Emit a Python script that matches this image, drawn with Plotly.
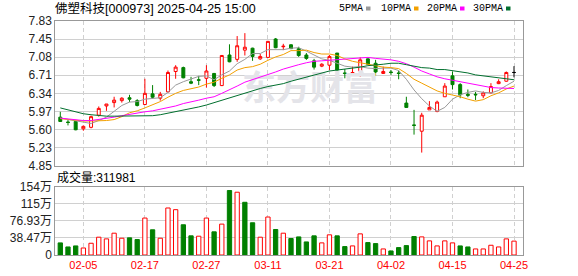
import plotly.graph_objects as go

# ---------------- data ----------------
dates = ["01-23", "01-24", "01-27",
         "02-05", "02-06", "02-07", "02-10", "02-11", "02-12", "02-13", "02-14",
         "02-17", "02-18", "02-19", "02-20", "02-21", "02-24", "02-25", "02-26",
         "02-27", "02-28", "03-03", "03-04", "03-05", "03-06", "03-07", "03-10",
         "03-11", "03-12", "03-13", "03-14", "03-17", "03-18", "03-19", "03-20",
         "03-21", "03-24", "03-25", "03-26", "03-27", "03-28", "03-31", "04-01",
         "04-02", "04-03", "04-07", "04-08", "04-09", "04-10", "04-11", "04-14",
         "04-15", "04-16", "04-17", "04-18", "04-21", "04-22", "04-23", "04-24",
         "04-25"]

opens = [5.85, 5.75, 5.76, 5.61, 5.64, 5.89, 6.08, 6.15, 6.19, 6.25,
         6.19, 6.11, 6.33, 6.24, 6.37, 6.79, 6.87, 6.58, 6.62, 6.65,
         6.75, 6.50, 7.13, 7.04, 7.23, 7.27, 7.05, 7.08, 7.46, 7.30,
         7.34, 7.26, 7.13, 7.01, 6.90, 6.92, 7.17, 6.76, 6.73, 6.79,
         7.05, 6.96, 6.75, 6.78, 6.76, 6.14, 5.69, 5.56, 6.00, 5.97,
         6.27, 6.70, 6.52, 6.32, 6.32, 6.29, 6.35, 6.54, 6.59, 6.77]
highs = [5.96, 5.79, 5.77, 5.68, 5.88, 6.07, 6.12, 6.27, 6.26, 6.31,
         6.22, 6.64, 6.51, 6.37, 6.81, 6.92, 6.89, 6.68, 6.70, 6.92,
         6.76, 7.13, 7.35, 7.52, 7.58, 7.28, 7.15, 7.42, 7.48, 7.36,
         7.35, 7.30, 7.17, 7.05, 6.96, 7.13, 7.17, 6.84, 6.89, 7.08,
         7.06, 7.03, 6.89, 6.82, 6.81, 6.27, 6.00, 5.94, 6.18, 6.19,
         6.55, 6.79, 6.55, 6.42, 6.37, 6.38, 6.55, 6.63, 6.79, 6.90]
lows = [5.75, 5.68, 5.58, 5.57, 5.62, 5.86, 5.98, 6.05, 6.15, 6.16,
        6.07, 6.10, 6.23, 6.19, 6.36, 6.64, 6.65, 6.53, 6.51, 6.46,
        6.47, 6.49, 6.98, 6.99, 7.12, 7.01, 7.03, 7.08, 7.27, 7.23,
        7.27, 7.09, 7.03, 6.83, 6.88, 6.82, 6.65, 6.65, 6.73, 6.68,
        6.93, 6.70, 6.74, 6.72, 6.63, 6.05, 5.49, 5.12, 6.00, 5.95,
        6.27, 6.42, 6.24, 6.26, 6.20, 6.24, 6.34, 6.53, 6.58, 6.67]
closes = [5.76, 5.74, 5.59, 5.66, 5.86, 6.03, 6.12, 6.20, 6.24, 6.22,
          6.09, 6.34, 6.26, 6.32, 6.77, 6.88, 6.66, 6.55, 6.61, 6.80,
          6.50, 7.12, 6.99, 7.32, 7.29, 7.10, 7.10, 7.41, 7.28, 7.31,
          7.26, 7.12, 7.06, 6.88, 6.94, 7.10, 6.82, 6.75, 6.77, 7.03,
          6.94, 6.78, 6.79, 6.77, 6.75, 6.05, 5.68, 5.89, 6.05, 6.16,
          6.49, 6.52, 6.31, 6.30, 6.31, 6.35, 6.48, 6.58, 6.77, 6.77]
# volume in 万 (10k lots)
volumes = [27.2, 18.1, 20.4, 15.8, 26.4, 40.0, 36.2, 49.0, 37.7, 38.5,
           34.7, 83.0, 56.6, 37.7, 105.6, 101.8, 67.9, 43.0, 42.2, 83.0,
           52.0, 69.4, 144.8, 141.0, 118.4, 72.4, 40.0, 85.3, 57.3, 49.0,
           37.0, 40.7, 29.4, 43.0, 27.2, 45.3, 43.0, 18.9, 20.4, 47.5,
           27.9, 25.6, 13.6, 9.1, 16.6, 21.1, 41.5, 40.7, 31.7, 20.4,
           31.7, 27.2, 20.4, 18.1, 13.6, 13.6, 21.9, 18.1, 36.2, 31.2]

ma5 = [5.83, 5.80, 5.77, 5.74, 5.72, 5.78, 5.85, 5.97, 6.09, 6.16,
       6.17, 6.22, 6.23, 6.25, 6.36, 6.51, 6.58, 6.64, 6.69, 6.70,
       6.62, 6.72, 6.80, 6.95, 7.04, 7.16, 7.16, 7.24, 7.24, 7.24,
       7.27, 7.28, 7.21, 7.13, 7.05, 7.02, 6.96, 6.90, 6.88, 6.89,
       6.86, 6.85, 6.86, 6.86, 6.81, 6.63, 6.41, 6.23, 6.08, 5.97,
       6.05, 6.22, 6.31, 6.36, 6.39, 6.36, 6.35, 6.40, 6.50, 6.59]
ma10 = [5.82, 5.80, 5.78, 5.77, 5.77, 5.77, 5.78, 5.80, 5.86, 5.94,
        5.98, 6.04, 6.10, 6.17, 6.26, 6.34, 6.40, 6.43, 6.47, 6.53,
        6.57, 6.65, 6.72, 6.82, 6.87, 6.89, 6.94, 7.02, 7.09, 7.14,
        7.22, 7.22, 7.23, 7.18, 7.15, 7.15, 7.12, 7.05, 7.00, 6.97,
        6.94, 6.91, 6.88, 6.87, 6.85, 6.75, 6.63, 6.55, 6.47, 6.39,
        6.34, 6.31, 6.27, 6.22, 6.18, 6.21, 6.29, 6.35, 6.43, 6.49]
ma20 = [5.83, 5.81, 5.79, 5.78, 5.78, 5.80, 5.82, 5.85, 5.88, 5.91,
        5.93, 5.96, 5.98, 6.01, 6.04, 6.08, 6.13, 6.16, 6.20, 6.24,
        6.27, 6.34, 6.41, 6.49, 6.57, 6.62, 6.67, 6.73, 6.78, 6.84,
        6.89, 6.93, 6.97, 7.00, 7.01, 7.02, 7.03, 7.04, 7.05, 7.06,
        7.08, 7.06, 7.05, 7.03, 7.00, 6.95, 6.88, 6.80, 6.74, 6.68,
        6.64, 6.61, 6.58, 6.55, 6.52, 6.48, 6.46, 6.45, 6.45, 6.44]
ma30 = [6.04, 6.00, 5.96, 5.92, 5.90, 5.88, 5.87, 5.87, 5.87, 5.87,
        5.87, 5.87, 5.88, 5.90, 5.93, 5.97, 6.00, 6.03, 6.06, 6.10,
        6.15, 6.20, 6.25, 6.30, 6.35, 6.40, 6.44, 6.48, 6.51, 6.54,
        6.59, 6.63, 6.68, 6.72, 6.76, 6.80, 6.82, 6.84, 6.85, 6.88,
        6.91, 6.92, 6.94, 6.96, 6.96, 6.93, 6.90, 6.87, 6.86, 6.83,
        6.83, 6.81, 6.79, 6.76, 6.72, 6.70, 6.68, 6.65, 6.63, 6.62]

price_ticks = ["4.85", "5.23", "5.60", "5.97", "6.34", "6.71", "7.08", "7.45", "7.83"]
vol_ticks = ["0", "38.47万", "76.93万", "115万", "154万"]
x_ticks = ["02-05", "02-17", "02-27", "03-11", "03-21", "04-02", "04-15", "04-25"]
ma_names = ["5PMA", "10PMA", "20PMA", "30PMA"]
title_text = "佛塑科技[000973] 2025-04-25 15:00"
last_volume = 311981
watermark = "东方财富"

PRICE_MIN, PRICE_MAX = 4.85, 7.83
VOL_MAX = 153.88

# ---------------- styles ----------------
W, H = 578, 276
RED = "#FF0000"
GREEN = "#008000"
MA_COLORS = ["#999999", "#F2A000", "#FF00FF", "#006F2E"]
GRID = "#D0D0D0"
BORDER = "#999999"
LABEL = "#222222"
SANS = "Liberation Sans, Noto Sans CJK SC, sans-serif"
CJK = "Liberation Sans, Noto Sans CJK SC, sans-serif"


def px_x(p):
    return p / W


def px_y(p):
    return (H - p) / H


X0, X1 = px_x(55.3), px_x(522.7)
PY0, PY1 = px_y(165.7), px_y(21.0)
VY0, VY1 = px_y(255.0), px_y(186.5)
XR = [-0.65, 60.13]

idx = list(range(len(dates)))
tick_idx = [dates.index(d) for d in x_ticks]

fig = go.Figure()

# watermark (drawn first, underneath)
fig.add_trace(go.Scatter(
    x=[XR[0] + 0.545 * (XR[1] - XR[0])],
    y=[PRICE_MIN + 0.51 * (PRICE_MAX - PRICE_MIN)],
    mode="text", text=["<b>" + watermark + "</b>"],
    textfont=dict(family="Noto Sans CJK SC", size=34, color="#E4E4E9"),
    xaxis="x", yaxis="y", hoverinfo="skip", showlegend=False))

# moving averages
for name, vals, col in zip(ma_names, [ma5, ma10, ma20, ma30], MA_COLORS):
    fig.add_trace(go.Scatter(x=idx, y=vals, mode="lines", name=name,
                             line=dict(color=col, width=1),
                             xaxis="x", yaxis="y", hoverinfo="skip",
                             showlegend=False))


def subset(ids):
    return dict(x=ids,
                open=[opens[i] for i in ids],
                high=[highs[i] for i in ids],
                low=[lows[i] for i in ids],
                close=[closes[i] for i in ids])


groups = [
    ([i for i in idx if closes[i] > opens[i]], RED, "#FFFFFF"),
    ([i for i in idx if closes[i] < opens[i]], GREEN, GREEN),
    ([i for i in idx if closes[i] == opens[i]], "#000000", "#000000"),
]
for ids, lc, fc in groups:
    if not ids:
        continue
    style = dict(line=dict(color=lc, width=1), fillcolor=fc)
    fig.add_trace(go.Candlestick(**subset(ids), increasing=style,
                                 decreasing=style, whiskerwidth=0,
                                 xaxis="x", yaxis="y", hoverinfo="skip",
                                 showlegend=False))

# volume bars (colour by close vs previous close)
prev_close = [opens[0]] + closes[:-1]
vol_up = [i for i in idx if closes[i] >= prev_close[i]]
vol_dn = [i for i in idx if closes[i] < prev_close[i]]
fig.add_trace(go.Bar(x=vol_up, y=[volumes[i] for i in vol_up], width=0.56,
                     marker=dict(color="#FFFFFF", line=dict(color=RED, width=1)),
                     xaxis="x2", yaxis="y2", hoverinfo="skip", showlegend=False))
fig.add_trace(go.Bar(x=vol_dn, y=[volumes[i] for i in vol_dn], width=0.56,
                     marker=dict(color=GREEN, line=dict(color=GREEN, width=1)),
                     xaxis="x2", yaxis="y2", hoverinfo="skip", showlegend=False))

price_tickvals = [PRICE_MIN + k * (PRICE_MAX - PRICE_MIN) / 8 for k in range(9)]
vol_tickvals = [k * VOL_MAX / 4 for k in range(5)]

common_x = dict(range=XR, tickvals=tick_idx, showgrid=True, gridcolor=GRID,
                griddash="4px,3px", gridwidth=1, zeroline=False, showline=True,
                mirror=True, linecolor=BORDER, linewidth=1, ticks="",
                fixedrange=True, automargin=False)
common_y = dict(showgrid=True, gridcolor=GRID, gridwidth=1, zeroline=False,
                showline=True, mirror=True, linecolor=BORDER, linewidth=1,
                ticks="", fixedrange=True, automargin=False,
                tickfont=dict(family=SANS, size=12, color=LABEL))

fig.update_layout(
    width=W, height=H, margin=dict(l=0, r=0, t=0, b=0),
    paper_bgcolor="white", plot_bgcolor="white", showlegend=False,
    barmode="overlay", boxgap=0.45, hovermode=False,
    xaxis=dict(domain=[X0, X1], anchor="y", showticklabels=False,
               rangeslider=dict(visible=False), **common_x),
    yaxis=dict(domain=[PY0, PY1], anchor="x", range=[PRICE_MIN, PRICE_MAX],
               tickvals=price_tickvals, ticktext=price_ticks, **common_y),
    xaxis2=dict(domain=[X0, X1], anchor="y2", matches="x", showticklabels=True,
                ticktext=x_ticks,
                tickfont=dict(family=SANS, size=11, color=RED), **common_x),
    yaxis2=dict(domain=[VY0, VY1], anchor="x2", range=[0, VOL_MAX],
                tickvals=vol_tickvals, ticktext=vol_ticks, **common_y),
)

annotations = [
    dict(text=title_text, x=px_x(53), y=px_y(8), xref="paper", yref="paper",
         xanchor="left", yanchor="middle", showarrow=False,
         font=dict(family=CJK, size=12.5, color="#000000")),
    dict(text="成交量:" + str(last_volume), x=px_x(55), y=px_y(177),
         xref="paper", yref="paper", xanchor="left", yanchor="middle",
         showarrow=False, font=dict(family=CJK, size=12, color="#000000")),
]
legend_x = [337, 379, 425, 471]
square_x = [366, 414, 460, 506]
for name, col, lx, sx in zip(ma_names, MA_COLORS, legend_x, square_x):
    annotations.append(dict(text=name, x=px_x(lx), y=px_y(8.3), xref="paper",
                            yref="paper", xanchor="left", yanchor="middle",
                            showarrow=False,
                            font=dict(family="Liberation Mono", size=10,
                                      color="#000000")))
    fig.add_shape(type="rect", xref="paper", yref="paper",
                  x0=px_x(sx), x1=px_x(sx + 4.5), y0=px_y(10.5), y1=px_y(6.5),
                  fillcolor=col, line=dict(width=0))
fig.update_layout(annotations=annotations)

fig.write_html("out.html")
